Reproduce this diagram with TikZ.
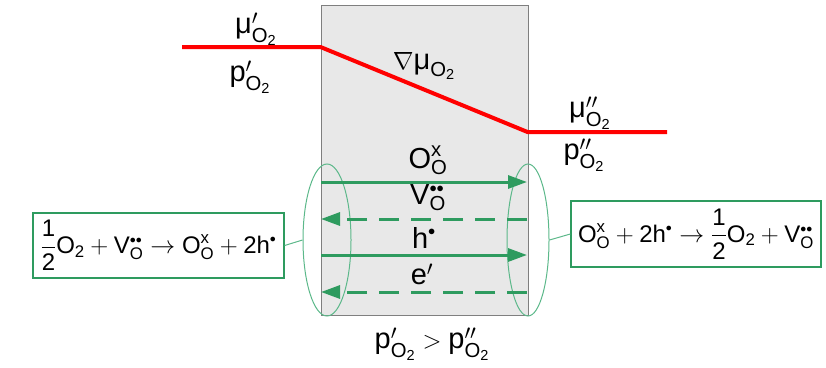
\documentclass[tikz,border=0pt]{standalone}
\usepackage{amsmath}
\usepackage{fontspec}
\setmainfont{Liberation Sans}
\usetikzlibrary{arrows.meta,shapes.geometric}
\newcommand\T[1]{\text{#1}}
\newcommand\dd{{\scriptscriptstyle\bullet\bullet}}
\newcommand\sd{{\scriptscriptstyle\bullet}}
\definecolor{redline}{HTML}{FF0000}
\definecolor{arrowgreen}{HTML}{2E9B5F}
\definecolor{lightgreen}{HTML}{5CB88A}
\definecolor{boxgrey}{HTML}{E8E8E8}
\definecolor{edgegrey}{HTML}{7F7F7F}
\tikzset{
  big/.style={font=\fontsize{29}{34}\selectfont, inner sep=0pt},
  eqbox/.style={draw=arrowgreen, line width=1.3pt, fill=white, inner sep=0pt, font=\fontsize{24}{28}\selectfont},
  flow/.style={draw=arrowgreen, line width=3pt, -{Triangle[length=19pt,width=13pt]}},
  flowdash/.style={flow, dash pattern=on 20pt off 12pt},
  ring/.style={draw=lightgreen, line width=1pt},
  link/.style={draw=lightgreen, line width=1pt}
}
\begin{document}
\begin{tikzpicture}[x=1pt,y=-1pt]
\useasboundingbox (0,0) rectangle (826,367);
% membrane
\node[draw=edgegrey, fill=boxgrey, line width=1.2pt, minimum width=207pt, minimum height=310pt, inner sep=0pt, anchor=north west] (mem) at (320.5,5) {};
% chemical potential line
\coordinate (r0) at (182,47);
\coordinate (r1) at (320.5,47);
\coordinate (r2) at (527.5,132);
\coordinate (r3) at (667,132);
\draw[redline, line width=4pt, line join=round] (r0) -- (r1) -- (r2) -- (r3);
\node[big] (mu1) at (256,29) {$\T{μ}'_{\T{O}_{\T{2}}}$};
\node[big] (p1) at (250,77) {$\T{p}'_{\T{O}_{\T{2}}}$};
\node[big] (grad) at (424,66) {$\nabla\T{μ}_{\T{O}_{\T{2}}}$};
\node[big] (mu2) at (590,113) {$\T{μ}''_{\T{O}_{\T{2}}}$};
\node[big] (p2) at (584,155) {$\T{p}''_{\T{O}_{\T{2}}}$};
% ellipses
\node[ring, ellipse, minimum width=48pt, minimum height=152pt, inner sep=0pt] (eL) at (327,240) {};
\node[ring, ellipse, minimum width=42pt, minimum height=152pt, inner sep=0pt] (eR) at (528,240) {};
% flux arrows
\coordinate (a1s) at (321,182); \coordinate (a1e) at (527,182);
\coordinate (a2s) at (527,219); \coordinate (a2e) at (321,219);
\coordinate (a3s) at (321,255); \coordinate (a3e) at (527,255);
\coordinate (a4s) at (527,292); \coordinate (a4e) at (321,292);
\draw[flow] (a1s) -- (a1e);
\draw[flowdash] (a2s) -- (a2e);
\draw[flow] (a3s) -- (a3e);
\draw[flowdash] (a4s) -- (a4e);
\node[big] (oo) at (428,160) {$\T{O}^{\T{x}}_{\T{O}}$};
\node[big] (vo) at (428,198) {$\T{V}^{\dd}_{\T{O}}$};
\node[big] (h) at (424,238) {$\T{h}^{\sd}$};
\node[big] (e) at (422,274) {$\T{e}'$};
% reaction boxes
\node[eqbox, minimum width=251pt, minimum height=65pt] (bL) at (158.5,245.5) {$\dfrac{\T{1}}{\T{2}}\T{O}_{\T{2}}+\T{V}^{\dd}_{\T{O}}\rightarrow\T{O}^{\T{x}}_{\T{O}}+\T{2h}^{\sd}$};
\node[eqbox, minimum width=250pt, minimum height=66pt] (bR) at (696,234) {$\T{O}^{\T{x}}_{\T{O}}+\T{2h}^{\sd}\rightarrow\dfrac{\T{1}}{\T{2}}\T{O}_{\T{2}}+\T{V}^{\dd}_{\T{O}}$};
\draw[link] (bL.east) -- (eL.west);
\draw[link] (eR.east) -- (bR.west);
% bottom label
\node[big] (cmp) at (432,344) {$\T{p}'_{\T{O}_{\T{2}}}>\T{p}''_{\T{O}_{\T{2}}}$};
\end{tikzpicture}
\end{document}
